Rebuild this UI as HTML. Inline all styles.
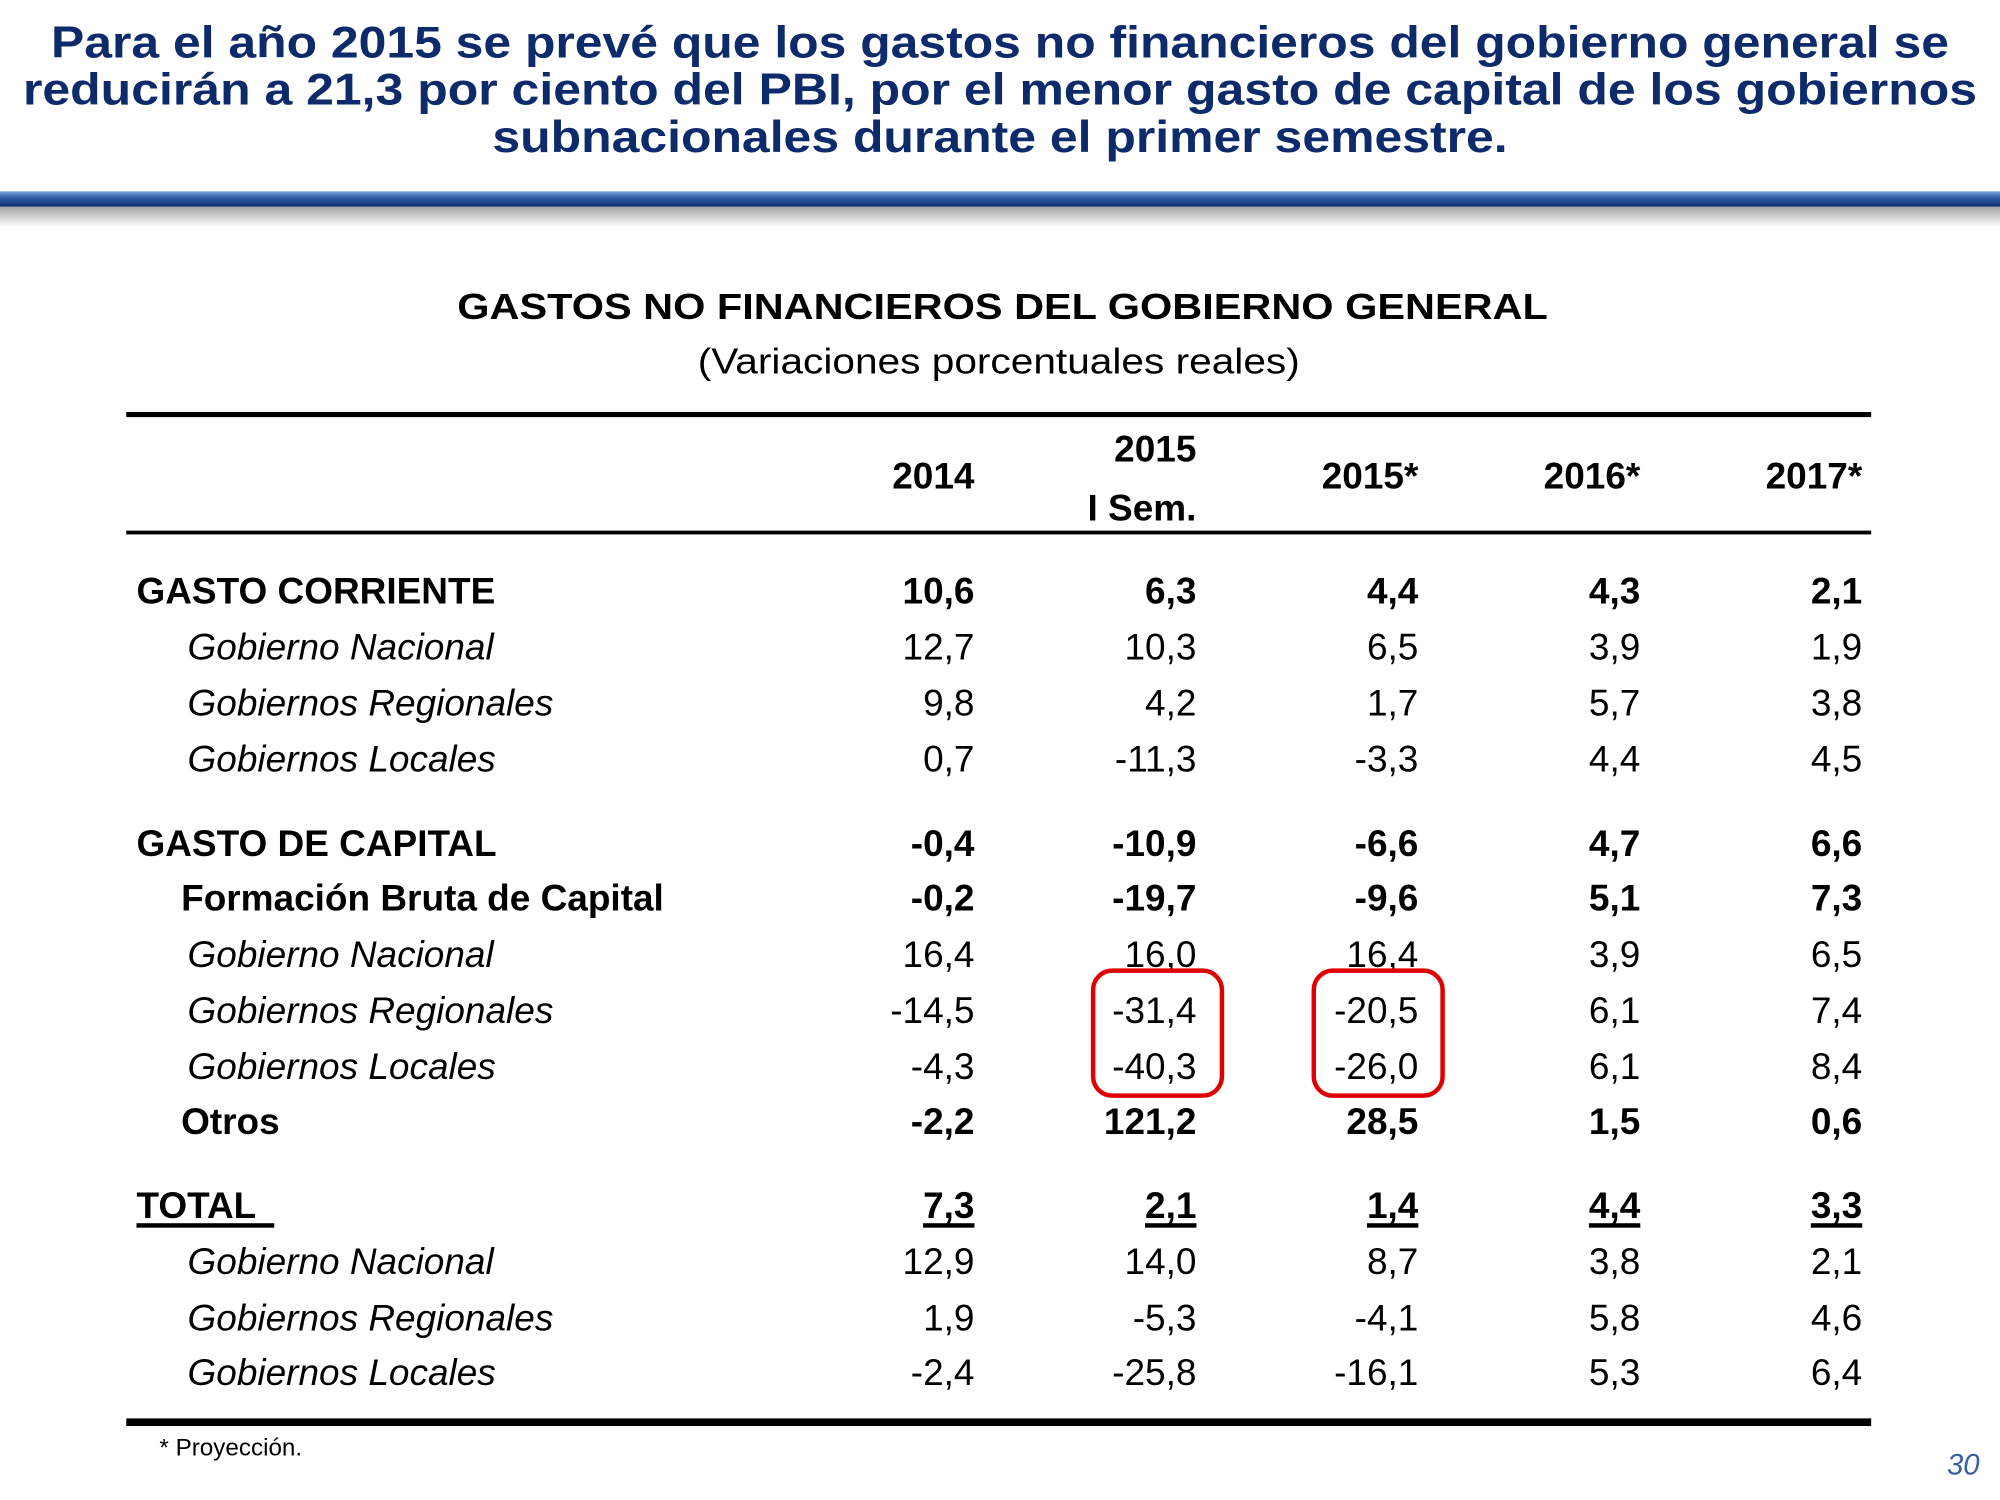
<!DOCTYPE html>
<html><head><meta charset="utf-8"><style>
html,body{margin:0;padding:0;background:#fff;}
svg{display:block;font-family:"Liberation Sans",Arial,sans-serif;}
</style></head><body>
<svg id="chart" width="2000" height="1500" viewBox="0 0 1568 1176" xmlns="http://www.w3.org/2000/svg">
<defs>
<linearGradient id="bar" x1="0" y1="0" x2="0" y2="1">
<stop offset="0" stop-color="#7aa6dc"/><stop offset="0.4" stop-color="#2f5fa8"/><stop offset="1" stop-color="#0f2f6e"/>
</linearGradient>
<linearGradient id="shadow" x1="0" y1="0" x2="0" y2="1">
<stop offset="0" stop-color="#9a9a9a"/><stop offset="1" stop-color="#ffffff"/>
</linearGradient>
</defs>
<g fill="#0d2a6b" font-weight="bold" font-size="35" text-anchor="middle">
<text x="784" y="45" textLength="1488" lengthAdjust="spacingAndGlyphs">Para el año 2015 se prevé que los gastos no financieros del gobierno general se</text>
<text x="784" y="82" textLength="1532" lengthAdjust="spacingAndGlyphs">reducirán a 21,3 por ciento del PBI, por el menor gasto de capital de los gobiernos</text>
<text x="784" y="119" textLength="796" lengthAdjust="spacingAndGlyphs">subnacionales durante el primer semestre.</text>
</g>
<rect x="0" y="160" width="1568" height="18" fill="url(#shadow)"/>
<rect x="0" y="150" width="1568" height="12" fill="url(#bar)"/>
<text x="786" y="250" font-size="28" font-weight="bold" text-anchor="middle" textLength="855" lengthAdjust="spacingAndGlyphs">GASTOS NO FINANCIEROS DEL GOBIERNO GENERAL</text>
<text x="783" y="293" font-size="28" text-anchor="middle" textLength="472" lengthAdjust="spacingAndGlyphs">(Variaciones porcentuales reales)</text>
<rect x="99" y="323" width="1368" height="4" fill="#000"/>
<rect x="99" y="416" width="1368" height="3" fill="#000"/>
<rect x="99" y="1112" width="1368" height="6" fill="#000"/>
<g id="table" font-size="29"></g>
<rect x="857" y="761" width="101" height="98" rx="15" fill="none" stroke="#e00000" stroke-width="3.5"/>
<rect x="1030" y="761" width="101" height="98" rx="15" fill="none" stroke="#e00000" stroke-width="3.5"/>
<text x="125" y="1141" font-size="19">* Proyección.</text>
<text x="1552" y="1156" font-size="23" font-style="italic" fill="#3a5fa0" text-anchor="end">30</text>
</svg>
<script>
const columns = ["2014", "2015", "2015*", "2016*", "2017*"];
const labels = ["GASTO CORRIENTE","Gobierno Nacional","Gobiernos Regionales","Gobiernos Locales","GASTO DE CAPITAL","Formación Bruta de Capital","Gobierno Nacional","Gobiernos Regionales","Gobiernos Locales","Otros","TOTAL","Gobierno Nacional","Gobiernos Regionales","Gobiernos Locales"];
const styles = ["b","i","i","i","b","bs","i","i","i","bs","t","i","i","i"];
const v2014 = ["10,6","12,7","9,8","0,7","-0,4","-0,2","16,4","-14,5","-4,3","-2,2","7,3","12,9","1,9","-2,4"];
const v2015s = ["6,3","10,3","4,2","-11,3","-10,9","-19,7","16,0","-31,4","-40,3","121,2","2,1","14,0","-5,3","-25,8"];
const v2015 = ["4,4","6,5","1,7","-3,3","-6,6","-9,6","16,4","-20,5","-26,0","28,5","1,4","8,7","-4,1","-16,1"];
const v2016 = ["4,3","3,9","5,7","4,4","4,7","5,1","3,9","6,1","6,1","1,5","4,4","3,8","5,8","5,3"];
const v2017 = ["2,1","1,9","3,8","4,5","6,6","7,3","6,5","7,4","8,4","0,6","3,3","2,1","4,6","6,4"];
const series = [v2014, v2015s, v2015, v2016, v2017];
const NS = "http://www.w3.org/2000/svg";
const g = document.getElementById("table");
const colX = [764, 938, 1112, 1286, 1460];
const rowY = [473,517,561,605,671,714,758,802,846,889,955,999,1043,1086];
function txt(x, y, s, anchor, bold, ital) {
  const t = document.createElementNS(NS, "text");
  t.setAttribute("x", x); t.setAttribute("y", y);
  t.setAttribute("text-anchor", anchor);
  if (bold) t.setAttribute("font-weight", "bold");
  if (ital) t.setAttribute("font-style", "italic");
  t.textContent = s; g.appendChild(t); return t;
}
// header
let h = txt(colX[0], 383, columns[0], "end", true, false);


h = txt(colX[1], 362, columns[1], "end", true, false);


h = txt(colX[1], 408, "I Sem.", "end", true, false);


for (let c = 2; c < 5; c++) {
  h = txt(colX[c], 383, columns[c], "end", true, false);
  
  
}
labels.forEach((lab, r) => {
  const st = styles[r];
  const bold = st !== "i";
  const x = st === "i" ? 147 : (st === "bs" ? 142 : 107);
  const l = txt(x, rowY[r], lab, "start", bold, st === "i");
  
  
  if (st === "t") {
    const u = document.createElementNS(NS, "rect");
    u.setAttribute("x", 107); u.setAttribute("y", rowY[r] + 4); u.setAttribute("width", 108); u.setAttribute("height", 3.5);
    
    
    g.appendChild(u);
  }
  series.forEach((arr, c) => {
    const t = txt(colX[c], rowY[r], arr[r], "end", bold, false);
    
    
    if (st === "t") {
      const w = t.getComputedTextLength ? t.getComputedTextLength() : 44;
      const u = document.createElementNS(NS, "rect");
      u.setAttribute("x", colX[c] - w); u.setAttribute("y", rowY[r] + 4); u.setAttribute("width", w); u.setAttribute("height", 3.5);
      
      
      g.appendChild(u);
    }
  });
});
</script>
</body></html>
